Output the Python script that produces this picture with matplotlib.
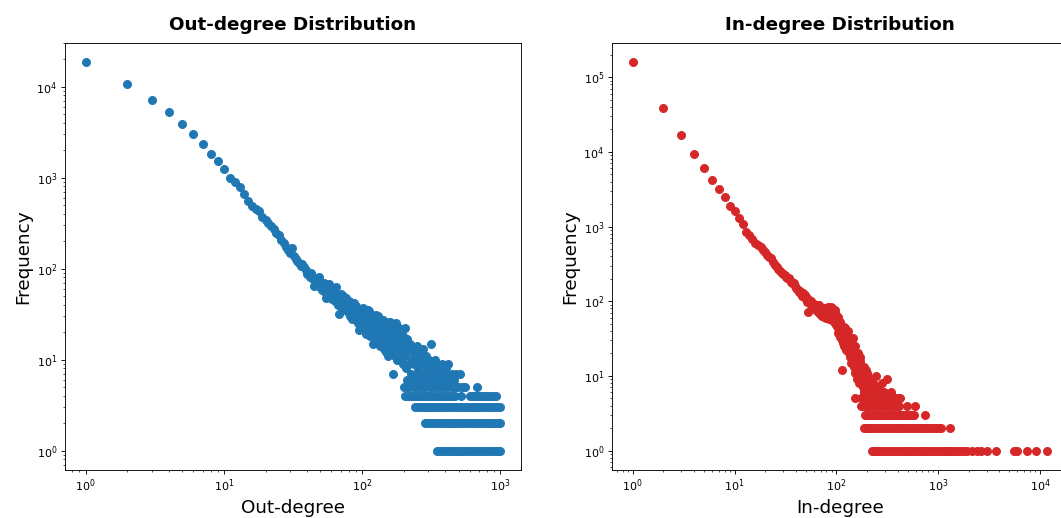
import matplotlib
matplotlib.use("Agg")
import numpy as np
import matplotlib.pyplot as plt

# ---- out-degree: (degree, frequency) ----
out_head_deg = list(range(1, 41))
out_head_freq = [18400, 10700, 7190, 5300, 3880, 3010, 2320, 1800, 1530, 1240,
                 990, 896, 789, 655, 552, 486, 455, 428, 370, 340,
                 316, 290, 274, 245, 231, 204, 190, 172, 160, 150,
                 170, 138, 128, 122, 115, 108, 113, 103, 96, 88]

out_mid_deg = list(range(41, 121))
out_mid_freq = [84, 80, 90, 76, 65, 78, 70, 74, 80, 62,
                58, 66, 70, 55, 48, 60, 52, 68, 56, 50,
                46, 58, 54, 44, 62, 49, 40, 32, 47, 52,
                43, 38, 50, 41, 45, 35, 48, 39, 33, 44,
                37, 30, 41, 36, 28, 39, 34, 42, 31, 39,
                27, 33, 36, 25, 21, 30, 35, 28, 24, 32,
                37, 26, 29, 22, 33, 27, 19, 30, 24, 35,
                28, 21, 34, 26, 18, 29, 23, 31, 15, 25]

out_tail_deg = [121, 122, 123, 124, 125, 126, 127, 128, 129, 130,
                131, 132, 133, 134, 135, 136, 137, 138, 139, 140,
                141, 142, 143, 144, 145, 146, 147, 148, 149, 150,
                151, 152, 153, 154, 155, 156, 157, 158, 159, 160,
                161, 162, 163, 164, 165, 166, 167, 168, 169, 170,
                171, 172, 173, 174, 175, 176, 177, 178, 179, 180,
                181, 182, 183, 184, 185, 186, 187, 188, 189, 190,
                191, 192, 193, 194, 195, 196, 197, 198, 199, 200,
                203, 205, 208, 210, 213, 216, 219, 222, 225,
                228, 232, 235, 238, 242, 246, 250, 254, 258, 262,
                266, 270, 275, 280, 285, 290, 295, 300, 305, 310,
                316, 322, 328, 334, 338, 345, 352, 360, 368, 376,
                385, 395, 405, 415, 422, 432, 445, 460, 480, 508]
out_tail_freq = [27, 20, 18, 28, 23, 17, 31, 24, 16, 30,
                 25, 21, 20, 14, 28, 26, 15, 19, 22, 23,
                 18, 27, 24, 16, 13, 20, 21, 12, 26, 24,
                 15, 18, 20, 22, 11, 15, 23, 26, 17, 19,
                 21, 13, 14, 21, 19, 17, 7, 24, 12, 14,
                 22, 20, 17, 11, 13, 25, 20, 16, 10, 19,
                 16, 12, 21, 22, 12, 15, 17, 10, 14, 18,
                 20, 13, 11, 21, 15, 16, 18, 9, 12, 14,
                 22, 11, 8, 17, 6, 12, 9, 15, 7,
                 10, 13, 6, 9, 11, 7, 14, 8, 10, 6,
                 12, 7, 13, 9, 6, 11, 8, 7, 10, 6,
                 15, 8, 7, 9, 10, 6, 8, 7, 6, 9,
                 7, 6, 8, 7, 9, 6, 7, 6, 7, 7]

# degrees that occur exactly 5, 4, 3, 2, 1 times
out_f5 = [201, 212, 224, 236, 248, 262, 276, 292, 308, 325, 342, 360, 380,
          400, 420, 445, 470, 495, 525, 560, 678]
out_f4 = [206, 215, 226, 237, 249, 261, 274, 288, 302, 317, 333, 350, 367,
          386, 405, 425, 446, 470, 520, 600, 630, 662, 695, 730, 766, 805,
          845, 890, 925]
out_f3 = [241, 253, 266, 279, 293, 308, 323, 339, 356, 374, 393, 412, 433,
          455, 478, 502, 527, 553, 581, 610, 640, 672, 706, 741, 778, 817,
          858, 901, 946, 993]
out_f2 = [287, 301, 316, 332, 349, 366, 384, 403, 423, 444, 466, 489, 514,
          540, 567, 595, 625, 656, 689, 723, 759, 797, 837, 879, 923, 969, 998]
out_f1 = [350, 367, 385, 404, 424, 445, 467, 490, 515, 541, 568, 596, 626,
          657, 690, 724, 760, 798, 838, 880, 924, 970, 1000]

# ---- in-degree: (degree, frequency) ----
in_head_deg = list(range(1, 41))
in_head_freq = [158000, 38600, 16900, 9310, 6100, 4250, 3190, 2470, 1900, 1610,
                1290, 1080, 851, 769, 673, 610, 560, 535, 480, 451,
                420, 395, 374, 340, 310, 289, 270, 255, 240, 235,
                225, 214, 205, 202, 190, 182, 176, 173, 160, 152]

in_mid_deg = list(range(41, 121))
in_mid_freq = [148, 140, 132, 138, 125, 118, 128, 114, 120, 108,
               112, 98, 72, 104, 95, 100, 88, 96, 82, 92,
               85, 78, 90, 74, 86, 80, 70, 88, 76, 66,
               82, 72, 64, 78, 62, 74, 68, 80, 60, 71,
               76, 65, 84, 58, 70, 78, 62, 84, 68, 80,
               56, 74, 64, 52, 70, 60, 76, 56, 48, 66,
               58, 50, 44, 62, 38, 54, 46, 33, 52, 40,
               35, 48, 30, 12, 42, 28, 36, 45, 25, 32]

in_tail_deg = [121, 122, 123, 124, 125, 126, 127, 128, 129, 130,
               131, 132, 133, 134, 135, 136, 137, 138, 139, 140,
               141, 142, 143, 144, 145, 146, 147, 148, 149, 150,
               151, 152, 153, 154, 155, 156, 157, 158, 160, 161,
               162, 163, 165, 166, 168, 169, 170, 172, 173, 175,
               176, 178, 179, 181, 183, 184, 186, 187, 189, 190,
               192, 194, 196, 198, 200, 202, 204, 206, 208, 210,
               213, 215, 218, 220, 225, 230, 243, 255, 268, 280,
               295, 312, 342]
in_tail_freq = [44, 38, 30, 22, 36, 30, 24, 27, 29, 34,
                40, 20, 23, 26, 31, 18, 21, 24, 27, 15,
                19, 21, 24, 28, 32, 17, 16, 13, 20, 22,
                25, 11, 15, 5, 19, 12, 14, 17, 9, 13,
                16, 20, 12, 10, 8, 14, 18, 16, 11, 10,
                8, 13, 12, 7, 9, 11, 13, 6, 7, 9,
                10, 12, 8, 7, 11, 8, 6, 10, 9, 6,
                7, 9, 8, 7, 6, 8, 10, 7, 6, 8,
                6, 9, 6]

in_f5 = [174, 182, 191, 200, 211, 222, 234, 247, 260, 275, 290, 306, 323,
         341, 360, 380, 402, 426]
in_f4 = [176, 185, 195, 205, 216, 228, 240, 253, 267, 282, 298, 315, 333,
         352, 372, 393, 415, 490, 596]
in_f3 = [190, 200, 211, 223, 236, 249, 263, 278, 294, 311, 329, 348, 368,
         389, 411, 435, 460, 486, 514, 543, 574, 736]
in_f2 = [185, 196, 208, 221, 234, 248, 263, 279, 296, 314, 333, 353, 374,
         397, 421, 446, 473, 502, 532, 564, 598, 634, 672, 713, 756, 802,
         850, 901, 955, 1013, 1074, 1316]
in_f1 = [222, 235, 249, 264, 280, 297, 315, 334, 354, 375, 398, 422, 447,
         474, 502, 532, 564, 598, 634, 672, 712, 755, 800, 848, 899, 953,
         1010, 1071, 1135, 1203, 1275, 1352, 1433, 1519, 1610, 1707, 1809,
         1930, 2170, 2400, 2630, 3050, 3660, 5530, 5960, 7500, 9190, 11800]


def collect(head_d, head_f, mid_d, mid_f, tail_d, tail_f, bands):
    deg = head_d + mid_d + tail_d
    freq = head_f + mid_f + tail_f
    for f, ds in bands.items():
        deg = deg + ds
        freq = freq + [f] * len(ds)
    return np.array(deg), np.array(freq)


out_x, out_y = collect(out_head_deg, out_head_freq, out_mid_deg, out_mid_freq,
                       out_tail_deg, out_tail_freq,
                       {5: out_f5, 4: out_f4, 3: out_f3, 2: out_f2, 1: out_f1})
in_x, in_y = collect(in_head_deg, in_head_freq, in_mid_deg, in_mid_freq,
                     in_tail_deg, in_tail_freq,
                     {5: in_f5, 4: in_f4, 3: in_f3, 2: in_f2, 1: in_f1})

W, H, DPI = 1061, 518, 80
fig = plt.figure(figsize=(W / DPI, H / DPI), dpi=DPI)

# the right panel runs past the right edge of the picture, as in the reference
ax1 = fig.add_axes([65 / W, 48 / H, 456 / W, 427 / H])
ax2 = fig.add_axes([612 / W, 48 / H, 456 / W, 427 / H])

panels = [
    (ax1, out_x, out_y, 'tab:blue', 'Out-degree Distribution', 'Out-degree'),
    (ax2, in_x, in_y, 'tab:red', 'In-degree Distribution', 'In-degree'),
]
for ax, x, y, color, title, xlabel in panels:
    ax.scatter(x, y, color=color, s=50)
    ax.set_xscale('log')
    ax.set_yscale('log')
    ax.set_title(title, fontsize=16.5, fontweight='bold', pad=12)
    ax.set_xlabel(xlabel, fontsize=16.5)
    ax.set_ylabel('Frequency', fontsize=16.5)

fig.savefig('out.png', dpi=DPI)
